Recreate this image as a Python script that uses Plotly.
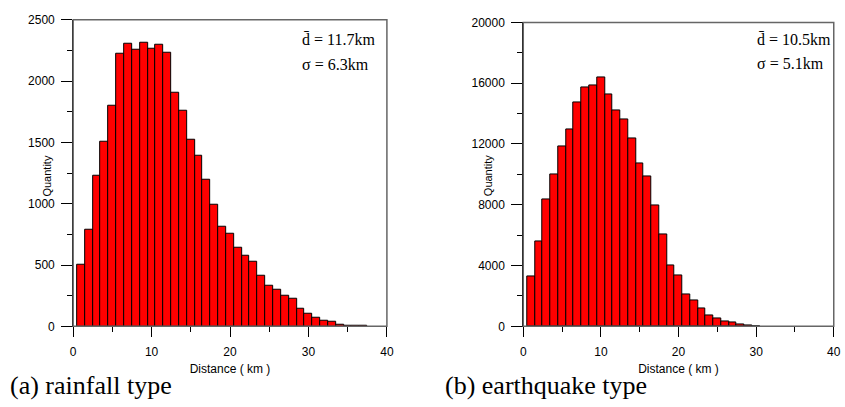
import plotly.graph_objects as go

# Data: 1-km bins, bin centres (km)
rain_x = list(range(1, 38))
rain_y = [499, 787, 1226, 1502, 1798, 2226, 2307, 2255, 2313, 2265, 2294, 2231,
          1903, 1761, 1525, 1389, 1197, 995, 809, 759, 641, 578, 523, 410, 334,
          302, 250, 221, 145, 105, 74, 48, 37, 16, 8, 3, 2]

quake_x = list(range(1, 31))
quake_y = [3266, 5574, 8351, 10022, 11846, 12926, 14706, 15723, 15869, 16397,
           15233, 14217, 13625, 12354, 10702, 9851, 7944, 6063, 3985, 3349,
           2078, 1673, 1144, 720, 530, 297, 233, 106, 42, 15]

rain_yticks = [0, 500, 1000, 1500, 2000, 2500]
quake_yticks = [0, 4000, 8000, 12000, 16000, 20000]
xticks = [0, 10, 20, 30, 40]

W, H = 845, 407
SANS = "Liberation Sans, Arial, sans-serif"
SERIF = "Liberation Serif, Times New Roman, serif"

fig = go.Figure()
fig.add_trace(go.Bar(x=rain_x, y=rain_y, width=1, xaxis="x", yaxis="y",
                     marker=dict(color="#FF0000", line=dict(color="black", width=1)),
                     showlegend=False))
fig.add_trace(go.Bar(x=quake_x, y=quake_y, width=1, xaxis="x2", yaxis="y2",
                     marker=dict(color="#FF0000", line=dict(color="black", width=1)),
                     showlegend=False))

def px_x(p):
    return p / W

def px_y(p):
    return 1 - p / H

axis_common = dict(showgrid=False, zeroline=False, showline=True, linecolor="black",
                   linewidth=1, ticks="outside", tickcolor="black",
                   tickfont=dict(family=SANS, size=12, color="black"))

fig.update_layout(
    width=W, height=H,
    margin=dict(l=0, r=0, t=0, b=0),
    paper_bgcolor="white", plot_bgcolor="white",
    bargap=0,
    xaxis=dict(domain=[px_x(71), px_x(388.5)], range=[0, 40], anchor="y",
               tickvals=xticks, ticktext=[str(v) for v in xticks], ticklen=10, ticklabelstandoff=4,
               minor=dict(dtick=5, tick0=0, ticklen=5, ticks="outside", tickcolor="black"),
               title=dict(text="Distance ( km )", font=dict(family=SANS, size=12, color="black"), standoff=6),
               **axis_common),
    yaxis=dict(domain=[px_y(330.7), px_y(13.2)], range=[0, 2500], anchor="x",
               tickvals=rain_yticks, ticktext=[str(v) for v in rain_yticks], ticklen=11, ticklabelstandoff=4,
               minor=dict(dtick=250, tick0=0, ticklen=5, ticks="outside", tickcolor="black"),
               **axis_common),
    xaxis2=dict(domain=[px_x(526.5), px_x(840.7)], range=[0, 40], anchor="y2",
                tickvals=xticks, ticktext=[str(v) for v in xticks], ticklen=10, ticklabelstandoff=4,
                minor=dict(dtick=5, tick0=0, ticklen=5, ticks="outside", tickcolor="black"),
                title=dict(text="Distance ( km )", font=dict(family=SANS, size=12, color="black"), standoff=6),
                **axis_common),
    yaxis2=dict(domain=[px_y(330.7), px_y(16)], range=[0, 20000], anchor="x2",
                tickvals=quake_yticks, ticktext=[str(v) for v in quake_yticks], ticklen=11, ticklabelstandoff=4,
                minor=dict(dtick=2000, tick0=0, ticklen=5, ticks="outside", tickcolor="black"),
                **axis_common),
)

# gray frame (top/right)
for xr, yr in (("x domain", "y domain"), ("x2 domain", "y2 domain")):
    fig.add_shape(type="rect", xref=xr, yref=yr, x0=0, x1=1, y0=0, y1=1,
                  line=dict(color="#666666", width=1.5), layer="above")

ann = []
# y-axis titles
ann.append(dict(text="Quantity", x=px_x(36), y=px_y(175), xref="paper", yref="paper",
                textangle=-90, showarrow=False, font=dict(family=SANS, size=11, color="black")))
ann.append(dict(text="Quantity", x=px_x(491), y=px_y(175), xref="paper", yref="paper",
                textangle=-90, showarrow=False, font=dict(family=SANS, size=11, color="black")))
# stats
stats = [("d\u0304 = 11.7km", 301, 34), ("\u03c3 = 6.3km", 301, 60),
         ("d\u0304 = 10.5km", 761, 34), ("\u03c3 = 5.1km", 761, 58)]
for t, x, y in stats:
    ann.append(dict(text=t, x=px_x(x), y=px_y(y), xref="paper", yref="paper",
                    xanchor="left", yanchor="middle", showarrow=False,
                    font=dict(family=SERIF, size=16, color="black")))
# captions
ann.append(dict(text="(a) rainfall type", x=px_x(5), y=px_y(392), xref="paper", yref="paper",
                xanchor="left", yanchor="middle", showarrow=False,
                font=dict(family=SERIF, size=26, color="black")))
ann.append(dict(text="(b) earthquake type", x=px_x(445), y=px_y(392), xref="paper", yref="paper",
                xanchor="left", yanchor="middle", showarrow=False,
                font=dict(family=SERIF, size=26, color="black")))
fig.update_layout(annotations=ann)

fig.write_html("out.html")
